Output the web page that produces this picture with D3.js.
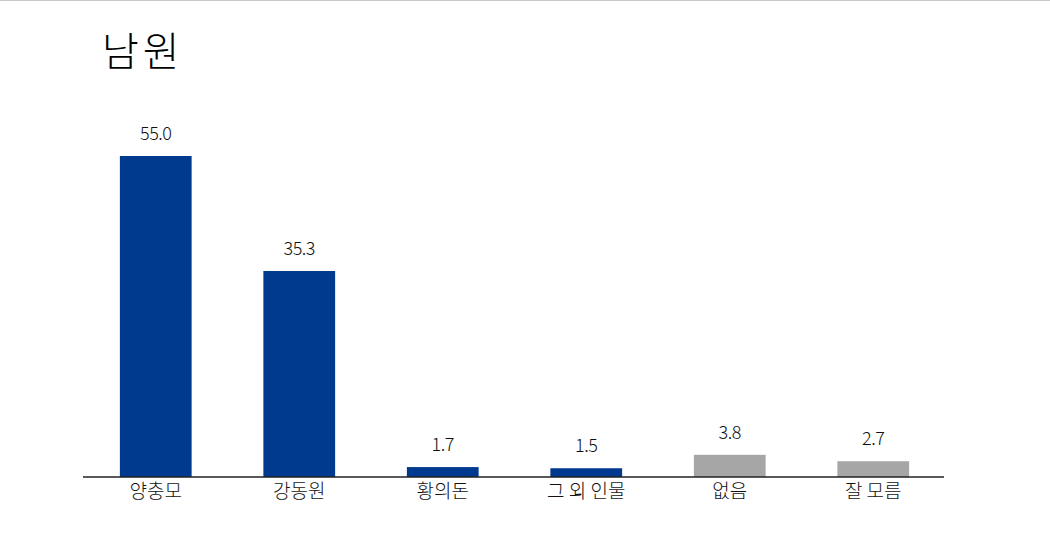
<!DOCTYPE html>
<html>
<head>
<meta charset="utf-8">
<script src="https://cdn.jsdelivr.net/npm/d3@7"></script>
<style>
  body { margin: 0; background: #fff; }
  text { font-family: "Noto Sans CJK KR", "Noto Sans", sans-serif; }
</style>
</head>
<body>
<svg id="canvas" width="1050" height="556"></svg>
<script>
let categories = ["양충모", "강동원", "황의돈", "그 외 인물", "없음", "잘 모름"];
let values = [55.0, 35.3, 1.7, 1.5, 3.8, 2.7];
let barColors = ["#003a8f", "#003a8f", "#003a8f", "#003a8f", "#a6a6a6", "#a6a6a6"];

let canvas = d3.select("#canvas");

// thin line across the top
canvas.append("line")
  .attr("x1", 0).attr("x2", 1050)
  .attr("y1", 0.5).attr("y2", 0.5)
  .attr("stroke", "#c8c8c8");

canvas.append("text")
  .attr("x", 102)
  .attr("y", 66)
  .attr("font-size", 40)
  .attr("font-weight", 300)
  .attr("letter-spacing", 4)
  .attr("fill", "#000")
  .text("남원");

let xScale = d3.scaleBand()
  .domain(categories)
  .range([84, 945])
  .paddingInner(0.5)
  .paddingOuter(0.25);

let yScale = d3.scaleLinear()
  .domain([0, 55])
  .range([477, 156]);

canvas.selectAll(".bar")
  .data(categories)
  .enter()
  .append("rect")
  .attr("class", "bar")
  .attr("x", (d) => xScale(d))
  .attr("width", xScale.bandwidth())
  .attr("y", (d, i) => yScale(values[i]))
  .attr("height", (d, i) => yScale(0) - yScale(values[i]))
  .attr("fill", (d, i) => barColors[i]);

canvas.selectAll(".value")
  .data(categories)
  .enter()
  .append("text")
  .attr("class", "value")
  .attr("x", (d) => xScale(d) + xScale.bandwidth() / 2)
  .attr("y", (d, i) => yScale(values[i]) - 16)
  .attr("text-anchor", "middle")
  .attr("font-size", 18)
  .attr("font-weight", 300)
  .attr("letter-spacing", -0.5)
  .attr("fill", "#111")
  .text((d, i) => values[i].toFixed(1));

// x axis
let xAxis = d3.axisBottom(xScale).tickSize(0).tickPadding(7);
let axisG = canvas.append("g")
  .attr("transform", "translate(0," + yScale(0) + ")")
  .call(xAxis);
axisG.select(".domain")
  .attr("d", "M-1,0H860")
  .attr("transform", "translate(84,0)")
  .attr("stroke", "#222")
  .attr("stroke-width", 1.3);
axisG.selectAll("text")
  .attr("font-size", 19)
  .attr("font-weight", 300)
  .attr("fill", "#111")
  .style("font-family", "\"Noto Sans CJK KR\", sans-serif");
</script>
</body>
</html>
